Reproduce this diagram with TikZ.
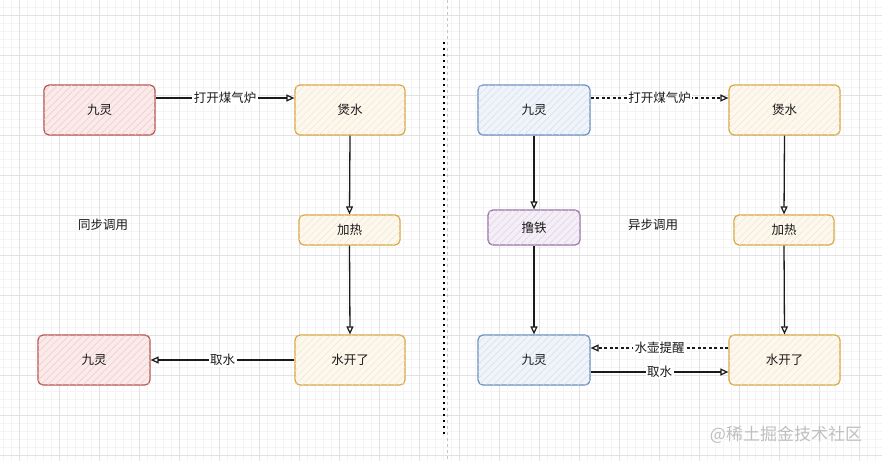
\documentclass[tikz,border=0pt]{standalone}
\usepackage{fontspec}
\setmainfont{Noto Sans CJK SC}
\usetikzlibrary{arrows.meta,patterns.meta}
\definecolor{redfill}{HTML}{FBEAEA}
\definecolor{redhatch}{HTML}{EEC9C9}
\definecolor{redline}{HTML}{B85450}
\definecolor{yelfill}{HTML}{FDF8EE}
\definecolor{yelhatch}{HTML}{F2E6CE}
\definecolor{yelline}{HTML}{D8A642}
\definecolor{bluefill}{HTML}{EFF4FA}
\definecolor{bluehatch}{HTML}{D3DEEC}
\definecolor{blueline}{HTML}{6C8EBF}
\definecolor{purfill}{HTML}{F4EEF6}
\definecolor{purhatch}{HTML}{DFD1E6}
\definecolor{purline}{HTML}{9673A6}
\definecolor{gridminor}{HTML}{F4F4F4}
\definecolor{gridmajor}{HTML}{E2E2E2}
\definecolor{txt}{HTML}{1A1A1A}
\tikzset{
  box/.style={draw, rounded corners=5pt, line width=1.2pt, inner sep=0pt,
    font=\fontsize{12.5}{14}\selectfont, text=txt},
  redbox/.style={box, draw=redline, fill=redfill,
    postaction={pattern={Lines[angle=45,distance=5pt,line width=0.5pt]}, pattern color=redhatch}},
  yelbox/.style={box, draw=yelline, fill=yelfill,
    postaction={pattern={Lines[angle=45,distance=5pt,line width=0.5pt]}, pattern color=yelhatch}},
  bluebox/.style={box, draw=blueline, fill=bluefill,
    postaction={pattern={Lines[angle=45,distance=5pt,line width=0.5pt]}, pattern color=bluehatch}},
  purbox/.style={box, draw=purline, fill=purfill,
    postaction={pattern={Lines[angle=45,distance=5pt,line width=0.5pt]}, pattern color=purhatch}},
  arr/.style={draw=txt, line width=1.3pt, -{Triangle[open,length=8pt,width=7pt,line width=1.2pt]}},
  darr/.style={arr, dash pattern=on 3pt off 2.5pt},
  lbl/.style={fill=white, inner sep=1.5pt, font=\fontsize{12.5}{14}\selectfont, text=txt},
  plain/.style={font=\fontsize{12.5}{14}\selectfont, text=txt},
}
\begin{document}
\begin{tikzpicture}[x=1pt,y=-1pt]
\useasboundingbox (0,0) rectangle (882,461);
\fill[white] (0,0) rectangle (882,461);
% grid
\foreach \x in {3,11,...,882} \draw[gridminor, line width=0.5pt] (\x,0) -- (\x,461);
\foreach \y in {7,15,...,461} \draw[gridminor, line width=0.5pt] (0,\y) -- (882,\y);
\foreach \x in {19,59,...,882} \draw[gridmajor, line width=0.6pt] (\x,0) -- (\x,461);
\foreach \y in {15,55,...,461} \draw[gridmajor, line width=0.6pt] (0,\y) -- (882,\y);
% page break line and divider
\draw[gray!45, line width=0.5pt, dash pattern=on 3pt off 3pt] (447,0) -- (447,461);
\draw[black, line width=2pt, dash pattern=on 2pt off 4pt] (444,42) -- (444,437);

% left: synchronous
\node[redbox, minimum width=111pt, minimum height=50pt] (L1) at (99.5,110) {九灵};
\node[yelbox, minimum width=110pt, minimum height=50pt] (L2) at (350,110) {煲水};
\node[yelbox, minimum width=101pt, minimum height=30pt] (L3) at (349.5,230) {加热};
\node[yelbox, minimum width=110pt, minimum height=50pt] (L4) at (350,360) {水开了};
\node[redbox, minimum width=112pt, minimum height=50pt] (L5) at (94,360) {九灵};
\node[plain] (sync) at (103,225) {同步调用};

\draw[arr] ([yshift=12pt]L1.east) -- node[lbl] {打开煤气炉} ([yshift=12pt]L2.west);
\draw[arr] (L2.south) -- (L3.north);
\draw[arr] (L3.south) -- (L4.north);
\draw[arr] (L4.west) -- node[lbl] {取水} (L5.east);

% right: asynchronous
\node[bluebox, minimum width=112pt, minimum height=50pt] (R1) at (534,110) {九灵};
\node[yelbox, minimum width=111pt, minimum height=50pt] (R2) at (784.5,110) {煲水};
\node[purbox, minimum width=92pt, minimum height=35pt] (R3) at (534,227.5) {撸铁};
\node[yelbox, minimum width=100pt, minimum height=30pt] (R4) at (784,230) {加热};
\node[bluebox, minimum width=112pt, minimum height=50pt] (R5) at (534,360) {九灵};
\node[yelbox, minimum width=111pt, minimum height=50pt] (R6) at (784.5,360) {水开了};
\node[plain] (async) at (653,225) {异步调用};

\draw[darr] ([yshift=12pt]R1.east) -- node[lbl] {打开煤气炉} ([yshift=12pt]R2.west);
\draw[arr] (R1.south) -- (R3.north);
\draw[arr] (R3.south) -- (R5.north);
\draw[arr] (R2.south) -- (R4.north);
\draw[arr] (R4.south) -- (R6.north);
\draw[darr] ([yshift=12pt]R6.west) -- node[lbl] {水壶提醒} ([yshift=12pt]R5.east);
\draw[arr] ([yshift=-12pt]R5.east) -- node[lbl] {取水} ([yshift=-12pt]R6.west);

% watermark
\node[font=\fontsize{17}{19}\selectfont, text=gray!50] (wm) at (786,435) {@稀土掘金技术社区};
\end{tikzpicture}
\end{document}
